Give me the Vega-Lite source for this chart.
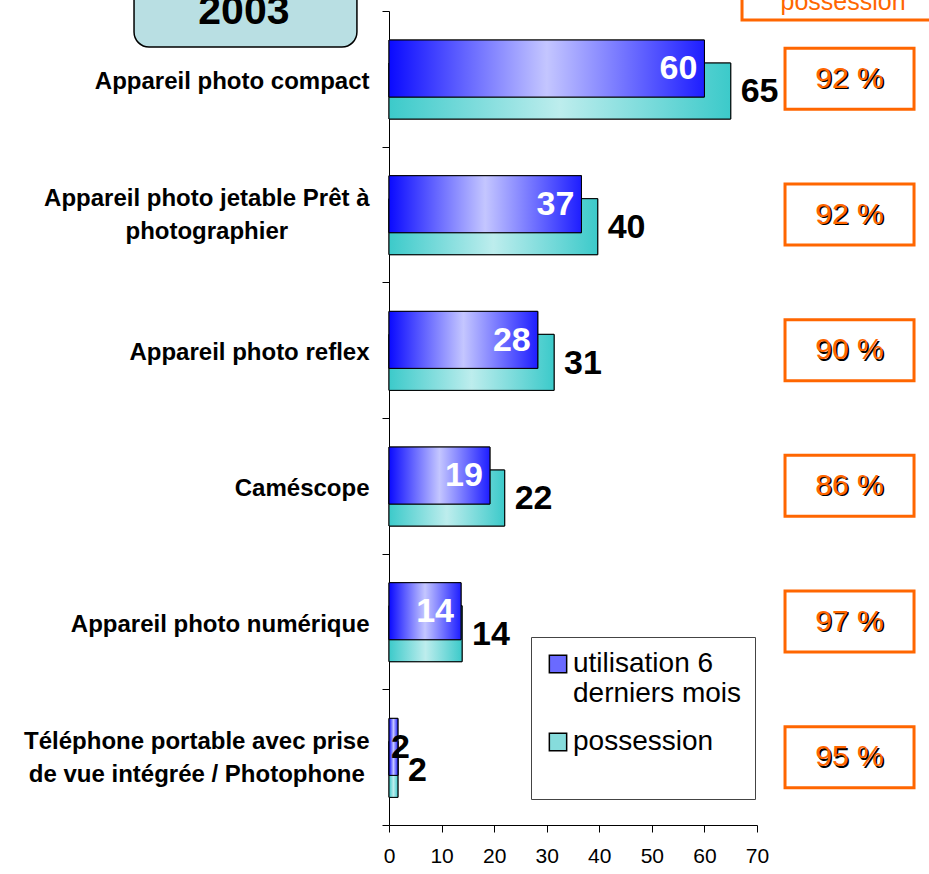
{
  "$schema": "https://vega.github.io/schema/vega-lite/v6.json",
  "autosize": {"type": "none"},
  "padding": {"left": 389, "top": 11, "right": 172, "bottom": 49},
  "width": 368,
  "height": 814,
  "background": "white",
  "config": {
    "font": "Liberation Sans",
    "view": {"stroke": null},
    "axis": {"domainColor": "black", "tickColor": "black", "labelColor": "black", "grid": false, "title": null}
  },
  "datasets": {
    "mesures": [
      {"cat": "Appareil photo compact", "serie": "utilisation 6 derniers mois", "v": 60},
      {"cat": "Appareil photo compact", "serie": "possession", "v": 65},
      {"cat": "Appareil photo jetable Prêt à photographier", "serie": "utilisation 6 derniers mois", "v": 36.6},
      {"cat": "Appareil photo jetable Prêt à photographier", "serie": "possession", "v": 39.7},
      {"cat": "Appareil photo reflex", "serie": "utilisation 6 derniers mois", "v": 28.3},
      {"cat": "Appareil photo reflex", "serie": "possession", "v": 31.4},
      {"cat": "Caméscope", "serie": "utilisation 6 derniers mois", "v": 19.2},
      {"cat": "Caméscope", "serie": "possession", "v": 22},
      {"cat": "Appareil photo numérique", "serie": "utilisation 6 derniers mois", "v": 13.7},
      {"cat": "Appareil photo numérique", "serie": "possession", "v": 13.9},
      {"cat": "Téléphone portable avec prise de vue intégrée / Photophone", "serie": "utilisation 6 derniers mois", "v": 1.7},
      {"cat": "Téléphone portable avec prise de vue intégrée / Photophone", "serie": "possession", "v": 1.7}
    ],
    "taux": [
      {"cat": "Appareil photo compact", "taux": "92 %"},
      {"cat": "Appareil photo jetable Prêt à photographier", "taux": "92 %"},
      {"cat": "Appareil photo reflex", "taux": "90 %"},
      {"cat": "Caméscope", "taux": "86 %"},
      {"cat": "Appareil photo numérique", "taux": "97 %"},
      {"cat": "Téléphone portable avec prise de vue intégrée / Photophone", "taux": "95 %"}
    ]
  },
  "data": {"name": "mesures"},
  "encoding": {
    "y": {
      "field": "cat", "type": "nominal", "sort": null,
      "scale": {"paddingInner": 0, "paddingOuter": 0},
      "axis": {
        "tickBand": "extent", "tickSize": 7,
        "labelFont": "Liberation Sans", "labelFontSize": 24, "labelFontWeight": "bold",
        "labelLineHeight": 33, "labelLimit": 500,
        "labelAlign": {"condition": {"test": "datum.value == 'Appareil photo jetable Prêt à photographier' || datum.value == 'Téléphone portable avec prise de vue intégrée / Photophone'", "value": "center"}, "value": "right"},
        "labelPadding": {"condition": [
          {"test": "datum.value == 'Appareil photo jetable Prêt à photographier'", "value": 175.7},
          {"test": "datum.value == 'Téléphone portable avec prise de vue intégrée / Photophone'", "value": 185.7}
        ], "value": 13},
        "labelOffset": {"condition": {"test": "datum.value == 'Appareil photo jetable Prêt à photographier' || datum.value == 'Téléphone portable avec prise de vue intégrée / Photophone'", "value": -16}, "value": 2.5},
        "labelExpr": "datum.label == 'Appareil photo jetable Prêt à photographier' ? ['Appareil photo jetable Prêt à', 'photographier'] : datum.label == 'Téléphone portable avec prise de vue intégrée / Photophone' ? ['Téléphone portable avec prise', 'de vue intégrée / Photophone'] : datum.label"
      }
    }
  },
  "layer": [
    {
      "data": {"values": [{"annee": "2003"}]},
      "mark": {"type": "bar", "height": 77, "yOffset": -70.3, "fill": "#B9DFE3", "stroke": "black", "strokeWidth": 1.5, "cornerRadius": 15},
      "encoding": {
        "y": {"datum": "Appareil photo compact"},
        "x": {"datum": -48.5, "type": "quantitative"},
        "x2": {"datum": -6.1}
      }
    },
    {
      "data": {"values": [{"annee": "2003"}]},
      "mark": {"type": "text", "fontSize": 41, "fontWeight": "bold", "color": "black", "baseline": "alphabetic", "align": "center", "yOffset": -55},
      "encoding": {
        "y": {"datum": "Appareil photo compact"},
        "x": {"datum": -27.6, "type": "quantitative"},
        "text": {"field": "annee"}
      }
    },
    {
      "data": {"values": [{"entete": "possession"}]},
      "mark": {"type": "bar", "height": 60, "yOffset": -88.8, "fill": "white", "stroke": "#FF6600", "strokeWidth": 3},
      "encoding": {
        "y": {"datum": "Appareil photo compact"},
        "x": {"datum": 67.15, "type": "quantitative"},
        "x2": {"datum": 115}
      }
    },
    {
      "data": {"values": [{"entete": "possession"}]},
      "mark": {"type": "text", "fontSize": 25, "color": "#FF6600", "baseline": "alphabetic", "align": "center", "yOffset": -68.8},
      "encoding": {
        "y": {"datum": "Appareil photo compact"},
        "x": {"datum": 86.36, "type": "quantitative"},
        "text": {"field": "entete"}
      }
    },
    {
      "transform": [{"filter": "datum.serie == 'possession'"}],
      "mark": {"type": "bar", "height": 56, "yOffset": 12.2, "stroke": "black", "strokeWidth": 1},
      "encoding": {
        "x": {"field": "v", "type": "quantitative", "scale": {"domain": [0, 70], "nice": false},
          "axis": {"values": [0, 10, 20, 30, 40, 50, 60, 70], "tickSize": 7, "labelPadding": 13, "labelFontSize": 21, "labelFont": "Liberation Sans", "labelFlush": false}},
        "color": {
          "field": "serie", "type": "nominal",
          "scale": {"domain": ["utilisation 6 derniers mois", "possession"], "range": ["#6A6AFF", "#86DCDC"]},
          "legend": {
            "orient": "none", "legendX": 142, "legendY": 626,
            "title": " ", "titleOrient": "bottom", "titleFontSize": 10, "titlePadding": 20,
            "padding": 13, "strokeColor": "#444444", "fillColor": "white",
            "labelFont": "Liberation Sans", "labelFontSize": 28, "labelColor": "black", "labelLimit": 400,
            "symbolType": "square", "symbolSize": 300, "symbolStrokeColor": "black", "symbolStrokeWidth": 1.5,
            "labelOffset": 1, "rowPadding": 20,
            "labelExpr": "datum.label == 'utilisation 6 derniers mois' ? ['utilisation 6', 'derniers mois'] : datum.label"
          }
        }
      }
    },
    {
      "transform": [{"filter": "datum.serie == 'possession'"}],
      "mark": {"type": "bar", "height": 56, "yOffset": 12.2, "stroke": "black", "strokeWidth": 1,
        "fill": {"gradient": "linear", "x1": 0, "y1": 0, "x2": 1, "y2": 0,
          "stops": [{"offset": 0, "color": "#3CCACA"}, {"offset": 0.5, "color": "#BDEDED"}, {"offset": 1, "color": "#3CCACA"}]}},
      "encoding": {"x": {"field": "v", "type": "quantitative"}}
    },
    {
      "transform": [{"filter": "datum.serie != 'possession'"}],
      "mark": {"type": "bar", "height": 57, "yOffset": -10.3, "stroke": "black", "strokeWidth": 1},
      "encoding": {
        "x": {"field": "v", "type": "quantitative"},
        "color": {"field": "serie", "type": "nominal"}
      }
    },
    {
      "transform": [{"filter": "datum.serie != 'possession'"}],
      "mark": {"type": "bar", "height": 57, "yOffset": -10.3, "stroke": "black", "strokeWidth": 1,
        "fill": {"gradient": "linear", "x1": 0, "y1": 0, "x2": 1, "y2": 0,
          "stops": [{"offset": 0, "color": "#0A0AFF"}, {"offset": 0.5, "color": "#C4C6FF"}, {"offset": 1, "color": "#1E1EFF"}]}},
      "encoding": {"x": {"field": "v", "type": "quantitative"}}
    },
    {
      "transform": [{"filter": "datum.serie != 'possession'"}],
      "mark": {"type": "text", "fontSize": 34, "fontWeight": "bold", "baseline": "middle", "dx": -7, "yOffset": -9.5,
        "align": {"expr": "datum.v < 5 ? 'left' : 'right'"}},
      "encoding": {
        "x": {"field": "v", "type": "quantitative"},
        "text": {"field": "v", "type": "quantitative", "format": ".0f"},
        "color": {"condition": {"test": "datum.v < 5", "value": "black"}, "value": "white"}
      }
    },
    {
      "transform": [{"filter": "datum.serie == 'possession'"}],
      "mark": {"type": "text", "fontSize": 34, "fontWeight": "bold", "baseline": "middle", "align": "left", "dx": 10, "yOffset": 13.5, "color": "black"},
      "encoding": {
        "x": {"field": "v", "type": "quantitative"},
        "text": {"field": "v", "type": "quantitative", "format": ".0f"}
      }
    },
    {
      "data": {"name": "taux"},
      "mark": {"type": "bar", "height": 61, "fill": "white", "stroke": "#FF6600", "strokeWidth": 3},
      "encoding": {
        "x": {"datum": 75.33, "type": "quantitative"},
        "x2": {"datum": 99.87}
      }
    },
    {
      "data": {"name": "taux"},
      "mark": {"type": "text", "fontSize": 30, "color": "black", "baseline": "middle", "align": "center", "dx": 1.5, "dy": 1.5},
      "encoding": {
        "x": {"datum": 87.6, "type": "quantitative"},
        "text": {"field": "taux"}
      }
    },
    {
      "data": {"name": "taux"},
      "mark": {"type": "text", "fontSize": 30, "color": "#FF6600", "baseline": "middle", "align": "center"},
      "encoding": {
        "x": {"datum": 87.6, "type": "quantitative"},
        "text": {"field": "taux"}
      }
    }
  ]
}
